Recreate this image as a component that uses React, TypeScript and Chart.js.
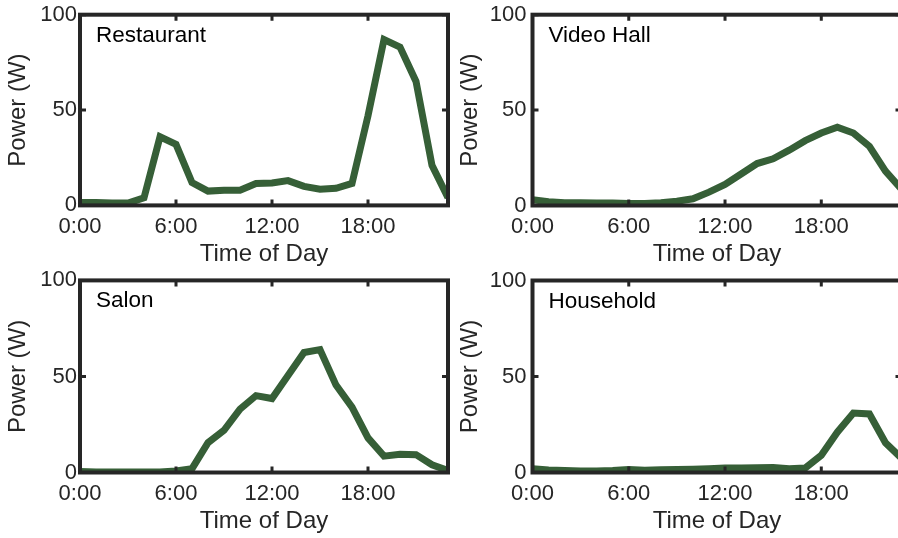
import React, { useEffect, useRef } from 'react';
import { Chart, registerables } from 'chart.js';

Chart.register(...registerables);

// ---- data ----
const HOURS = [0, 1, 2, 3, 4, 5, 6, 7, 8, 9, 10, 11, 12, 13, 14, 15, 16, 17, 18, 19, 20, 21, 22, 23];
const X_TICKS = [0, 6, 12, 18];
const Y_TICKS = [0, 50, 100];
const RESTAURANT = [1.5, 1.5, 1.2, 1.2, 4, 36, 32, 12, 7.5, 8, 8, 11.5, 11.8, 13, 10, 8.5, 9, 11.5, 47, 87, 83, 65, 21, 4];
const VIDEO_HALL = [3, 2, 1.5, 1.5, 1.3, 1.3, 1, 1, 1.5, 2.2, 3.5, 7, 11, 16.5, 22, 24.5, 29, 34, 38, 41, 38, 31, 18, 8.5];
const SALON = [0.5, 0.3, 0.3, 0.3, 0.3, 0.3, 0.8, 2, 15.5, 22, 33, 40, 38.5, 50.5, 62.5, 64, 45.5, 34, 18, 8.5, 9.5, 9.3, 4, 1];
const HOUSEHOLD = [2, 1.3, 1.1, 0.8, 0.8, 1, 1.5, 1.2, 1.4, 1.5, 1.7, 2, 2.3, 2.4, 2.5, 2.6, 2, 2.3, 9, 21, 31, 30.5, 15.5, 7.5];
const PANEL_NAMES = ['Restaurant', 'Video Hall', 'Salon', 'Household'];
const X_TITLE = 'Time of Day';
const Y_TITLE = 'Power (W)';

// ---- style / layout ----
const FONT = '"Liberation Sans", Arial, Helvetica, sans-serif';
const LINE_COLOR = '#365F37';
const AXIS_COLOR = '#262626';
const TICK_SIZE = 22;
const TITLE_SIZE = 24;
const LABEL_SIZE = 22.5;

type Geo = { cx: number; cy: number; cw: number; ch: number; L: number; R: number; T: number; B: number; yPad: number };

const GEOS: Geo[] = [
  { cx: 0, cy: 0, cw: 460, ch: 275, L: 80, R: 448, T: 14.7, B: 205.4, yPad: 3 },
  { cx: 450, cy: 0, cw: 470, ch: 275, L: 532.5, R: 901.5, T: 14.7, B: 205.5, yPad: 6 },
  { cx: 0, cy: 263, cw: 460, ch: 275, L: 80, R: 448, T: 280.4, B: 472.5, yPad: 3 },
  { cx: 450, cy: 263, cw: 470, ch: 275, L: 532.5, R: 901.5, T: 280.5, B: 472.5, yPad: 6 },
];
const SERIES = [RESTAURANT, VIDEO_HALL, SALON, HOUSEHOLD];

function Panel({ name, values, geo }: { name: string; values: number[]; geo: Geo }) {
  const ref = useRef<HTMLCanvasElement | null>(null);
  useEffect(() => {
    if (!ref.current) return;
    const { cx, cy, cw, ch, L, R, T, B, yPad } = geo;
    const l = L - cx, r = R - cx, t = T - cy, b = B - cy;
    const titleLH = TITLE_SIZE * 1.2;
    const xTitlePadBottom = cy + ch - titleLH / 2 - (B + 49);
    const yTitlePadTop = L - 62 - cx - titleLH / 2;

    const framePlugin = {
      id: 'frame' + name.replace(/\s/g, ''),
      afterDatasetsDraw(chart: any) {
        const { ctx, chartArea: a, scales } = chart;
        ctx.save();
        ctx.strokeStyle = AXIS_COLOR;
        ctx.lineWidth = 3;
        ctx.beginPath();
        scales.x.ticks.forEach((tk: any) => {
          const px = scales.x.getPixelForValue(tk.value);
          ctx.moveTo(px, a.bottom);
          ctx.lineTo(px, a.bottom - 6);
          ctx.moveTo(px, a.top);
          ctx.lineTo(px, a.top + 6);
        });
        scales.y.ticks.forEach((tk: any) => {
          const py = scales.y.getPixelForValue(tk.value);
          ctx.moveTo(a.left, py);
          ctx.lineTo(a.left + 6, py);
          ctx.moveTo(a.right, py);
          ctx.lineTo(a.right - 6, py);
        });
        ctx.stroke();
        ctx.lineWidth = 4;
        ctx.strokeRect(a.left, a.top, a.right - a.left, a.bottom - a.top);
        ctx.fillStyle = '#000';
        ctx.font = `${LABEL_SIZE}px ${FONT}`;
        ctx.textAlign = 'left';
        ctx.textBaseline = 'alphabetic';
        ctx.fillText(name, a.left + 16, a.top + 27);
        ctx.restore();
      },
    };

    const chart = new Chart(ref.current, {
      type: 'line',
      data: {
        datasets: [
          {
            data: HOURS.map((h, i) => ({ x: h, y: values[i] })),
            borderColor: LINE_COLOR,
            backgroundColor: LINE_COLOR,
            borderWidth: 7,
            pointRadius: 0,
            pointHoverRadius: 0,
            tension: 0,
            fill: false,
            borderJoinStyle: 'miter',
            borderCapStyle: 'butt',
          } as any,
        ],
      },
      options: {
        responsive: false,
        animation: false,
        devicePixelRatio: 1,
        events: [],
        layout: { padding: { left: 0, top: t, right: cw - r, bottom: 0 } },
        plugins: { legend: { display: false }, tooltip: { enabled: false } },
        scales: {
          x: {
            type: 'linear',
            min: 0,
            max: 23,
            grid: { display: false, drawTicks: false },
            border: { display: false },
            afterBuildTicks: (s: any) => {
              s.ticks = X_TICKS.map((v) => ({ value: v }));
            },
            afterFit: (s: any) => {
              s.height = ch - b;
              s.paddingLeft = 0;
              s.paddingRight = 0;
              s.paddingTop = 0;
              s.paddingBottom = 0;
            },
            ticks: {
              autoSkip: false,
              maxRotation: 0,
              minRotation: 0,
              padding: 8,
              color: AXIS_COLOR,
              font: { family: FONT, size: TICK_SIZE, lineHeight: 1.2 },
              callback: (v: any) => `${v}:00`,
            },
            title: {
              display: true,
              text: X_TITLE,
              color: AXIS_COLOR,
              font: { family: FONT, size: TITLE_SIZE, lineHeight: 1.2 },
              padding: { top: 0, bottom: xTitlePadBottom },
            },
          },
          y: {
            type: 'linear',
            min: 0,
            max: 100,
            grid: { display: false, drawTicks: false },
            border: { display: false },
            afterBuildTicks: (s: any) => {
              s.ticks = Y_TICKS.map((v) => ({ value: v }));
            },
            afterFit: (s: any) => {
              s.width = l;
              s.paddingLeft = 0;
              s.paddingRight = 0;
              s.paddingTop = 0;
              s.paddingBottom = 0;
            },
            ticks: {
              autoSkip: false,
              padding: yPad,
              color: AXIS_COLOR,
              font: { family: FONT, size: TICK_SIZE, lineHeight: 1.2 },
              callback: (v: any) => `${v}`,
            },
            title: {
              display: true,
              text: Y_TITLE,
              color: AXIS_COLOR,
              font: { family: FONT, size: TITLE_SIZE, lineHeight: 1.2 },
              padding: { top: yTitlePadTop, bottom: 0 },
            },
          },
        },
      } as any,
      plugins: [framePlugin],
    });
    return () => chart.destroy();
  }, [name, values, geo]);

  return (
    <canvas
      ref={ref}
      width={geo.cw}
      height={geo.ch}
      style={{ position: 'absolute', left: geo.cx, top: geo.cy, width: geo.cw, height: geo.ch }}
    />
  );
}

export default function App() {
  return (
    <div
      style={{
        position: 'absolute',
        left: 0,
        top: 0,
        width: 898,
        height: 538,
        overflow: 'hidden',
        background: '#fff',
      }}
    >
      {PANEL_NAMES.map((n, i) => (
        <Panel key={n} name={n} values={SERIES[i]} geo={GEOS[i]} />
      ))}
    </div>
  );
}
